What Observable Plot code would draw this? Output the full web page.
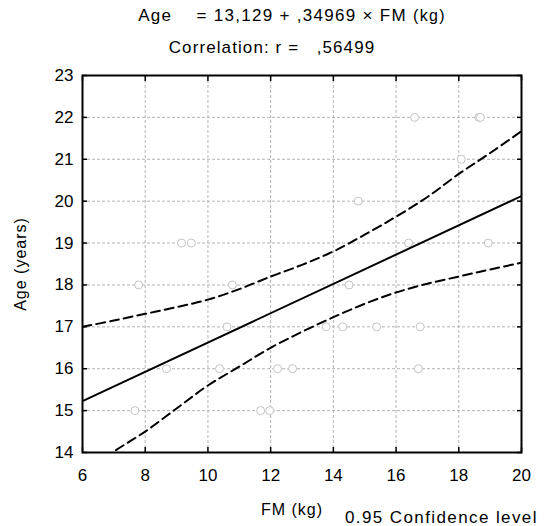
<!DOCTYPE html>
<html>
<head>
<meta charset="utf-8">
<script src="https://cdn.jsdelivr.net/npm/d3@7"></script>
<script src="https://cdn.jsdelivr.net/npm/@observablehq/plot@0.6"></script>
<style>
  html, body { margin: 0; padding: 0; background: #fff; }
  #wrap { position: relative; width: 545px; height: 526px; font-family: "Liberation Sans", Arial, sans-serif; color: #000; }
  .t { position: absolute; white-space: pre; line-height: 1; }
</style>
</head>
<body>
<div id="wrap">
  <div class="t" style="left:292px; top:7px; transform:translateX(-50%); font-size:17px; letter-spacing:1.3px;">Age    = 13,129 + ,34969 × FM <span style="font-size:16px">(kg)</span></div>
  <div class="t" style="left:272px; top:39px; transform:translateX(-50%); font-size:17px; letter-spacing:1.1px;">Correlation: r =   ,56499</div>
  <div class="t" style="left:292px; top:502px; transform:translateX(-50%); font-size:16px; letter-spacing:1px;">FM (kg)</div>
  <div class="t" style="left:345px; top:509px; font-size:17px; letter-spacing:1.4px;">0.95 Confidence level</div>
  <div class="t" style="left:21px; top:264px; transform:translate(-50%,-50%) rotate(-90deg); font-size:16px; letter-spacing:1px;">Age (years)</div>
</div>
<script>
// Observed points (FM in kg, Age in years)
const fm  = [9.16, 9.47, 16.40, 18.94, 16.59, 18.64, 18.69, 18.08, 14.79,
             7.79, 10.78, 14.50, 10.61, 13.77, 14.30, 15.38, 16.77,
             8.68, 10.37, 12.22, 12.70, 16.71, 7.67, 11.68, 11.97];
const age = [19, 19, 19, 19, 22, 22, 22, 21, 20,
             18, 18, 18, 17, 17, 17, 17, 17,
             16, 16, 16, 16, 16, 15, 15, 15];

// Regression line end points
const fitFM  = [6, 20];
const fitAge = [15.227, 20.123];

// 95% confidence band
const bandFM    = [6, 7, 8, 9, 10, 11, 12, 13, 14, 15, 16, 17, 18, 19, 20];
const bandUpper = [17.0, 17.15, 17.31, 17.47, 17.65, 17.9, 18.2, 18.48, 18.8, 19.2, 19.63, 20.1, 20.65, 21.15, 21.67];
const bandLower = [13.45, 14.02, 14.5, 15.05, 15.6, 16.05, 16.5, 16.88, 17.23, 17.55, 17.82, 18.03, 18.2, 18.37, 18.53];

// Tick values
const xTicks = [6, 8, 10, 12, 14, 16, 18, 20];
const yTicks = [14, 15, 16, 17, 18, 19, 20, 21, 22, 23];

const points = fm.map((x, i) => ({x, y: age[i]}));
const fit = fitFM.map((x, i) => ({x, y: fitAge[i]}));
const upper = bandFM.map((x, i) => ({x, y: bandUpper[i]}));
const lower = bandFM.map((x, i) => ({x, y: bandLower[i]}));

const chart = Plot.plot({
  width: 545,
  height: 526,
  marginLeft: 82,
  marginRight: 24,
  marginTop: 75,
  marginBottom: 74,
  style: {fontFamily: "'Liberation Sans', Arial, sans-serif", fontSize: "17px", color: "#000", background: "transparent"},
  x: {domain: [6, 20]},
  y: {domain: [14, 23]},
  marks: [
    Plot.gridX(xTicks, {stroke: "#b4b4b4", strokeOpacity: 1, strokeDasharray: "3,2"}),
    Plot.gridY(yTicks, {stroke: "#b4b4b4", strokeOpacity: 1, strokeDasharray: "3,2"}),
    Plot.dot(points, {x: "x", y: "y", r: 4, stroke: "#c4c4c4", fill: "white", strokeWidth: 1}),
    Plot.line(fit, {x: "x", y: "y", stroke: "black", strokeWidth: 2, clip: true}),
    Plot.line(upper, {x: "x", y: "y", stroke: "black", strokeWidth: 2, strokeDasharray: "9,5", curve: "catmull-rom", clip: true}),
    Plot.line(lower, {x: "x", y: "y", stroke: "black", strokeWidth: 2, strokeDasharray: "9,5", curve: "catmull-rom", clip: true}),
    Plot.axisX(xTicks, {anchor: "bottom", tickSize: -5, tickPadding: 21, label: null, strokeWidth: 1.5}),
    Plot.axisX(xTicks, {anchor: "top", tickSize: -5, tickFormat: () => "", label: null, strokeWidth: 1.5}),
    Plot.axisY(yTicks, {anchor: "left", tickSize: -5, tickPadding: 14, label: null, strokeWidth: 1.5}),
    Plot.axisY(yTicks, {anchor: "right", tickSize: -5, tickFormat: () => "", label: null, strokeWidth: 1.5}),
    Plot.frame({stroke: "black", strokeWidth: 2})
  ]
});
chart.style.position = "absolute";
chart.style.left = "0";
chart.style.top = "0";
document.getElementById("wrap").prepend(chart);
</script>
</body>
</html>
